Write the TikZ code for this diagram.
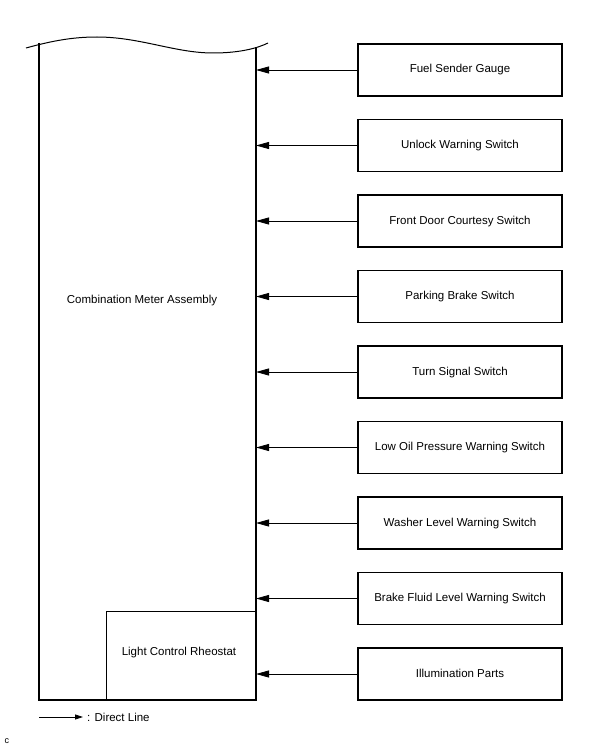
\documentclass[tikz,border=0pt]{standalone}
\usepackage{fontspec}
\setmainfont{Liberation Sans}
\usetikzlibrary{arrows.meta}

\begin{document}
\begin{tikzpicture}[
  x=1pt, y=-1pt,
  node distance=75.5pt,
  every node/.style={font=\fontsize{11.5}{13}\selectfont},
  part/.style={rectangle, draw, line width=1.3pt, minimum width=204pt, minimum height=52pt,
    inner sep=0pt, text height=6pt, text depth=0pt},
  signal/.style={line width=0.8pt, -{Triangle[length=13pt, width=7pt]}}
]
\useasboundingbox (0,0) rectangle (605,749);

% meter assembly
\draw[line width=1.3pt] (39,43) -- (39,700) -- (256,700) -- (256,47);
\draw[line width=1pt] (26,48) .. controls (55,40) and (75,37) .. (97,37)
  .. controls (140,37) and (175,53) .. (213,53)
  .. controls (240,53) and (258,48) .. (268,43);
\coordinate (meter) at (256,0);
\node (assy) at (142,301) {Combination Meter Assembly};
\node (rheo) [rectangle, draw, line width=0.8pt, minimum width=150pt, minimum height=89pt,
  inner sep=0pt] at (181,655.5) {};
\node at (179,653) {Light Control Rheostat};

\node (fuel) [part] at (460,70) {Fuel Sender Gauge};
\node (unlock) [part, below of=fuel] {Unlock Warning Switch};
\node (door) [part, below of=unlock] {Front Door Courtesy Switch};
\node (park) [part, below of=door] {Parking Brake Switch};
\node (turn) [part, below of=park] {Turn Signal Switch};
\node (oil) [part, below of=turn] {Low Oil Pressure Warning Switch};
\node (washer) [part, below of=oil] {Washer Level Warning Switch};
\node (brake) [part, below of=washer] {Brake Fluid Level Warning Switch};
\node (illum) [part, below of=brake] {Illumination Parts};

\foreach \n in {fuel,unlock,door,park,turn,oil,washer,brake,illum}
  \draw[signal] (\n.west) -- (\n.west -| meter);

% legend
\coordinate (leg) at (39,717);
\node (legtext) [anchor=west, inner sep=0pt] at (87,717) {: Direct Line};
\draw[line width=0.8pt, -{Triangle[length=8pt, width=5pt]}] (leg) -- (83,717);
\node (tag) [font=\fontsize{9}{10}\selectfont] at (7,741) {c};
\end{tikzpicture}
\end{document}
